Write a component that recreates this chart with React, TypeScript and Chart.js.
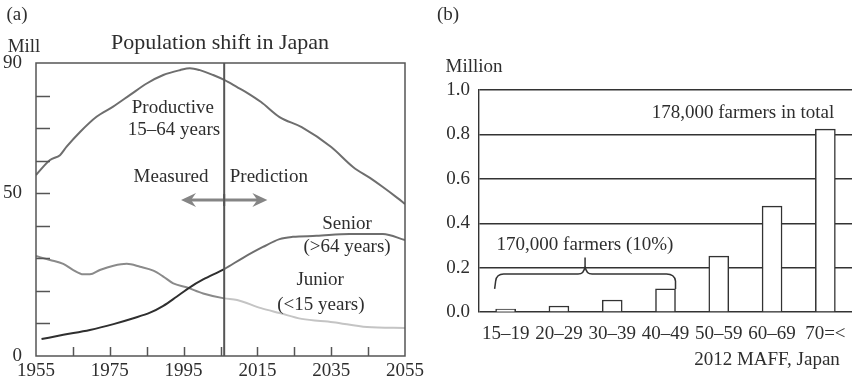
import React, { useEffect, useRef } from "react";
import { Chart, registerables } from "chart.js";
Chart.register(...registerables);

const FONT = "'Liberation Serif', 'Times New Roman', serif";
const TEXT = "#2e2e2e";
const FRAME = "#555555";
const FS = 19;

// ---------- Panel (a): Population shift in Japan (millions) ----------
const productiveYears = [1955, 1958.8, 1961.5, 1963.3, 1967, 1971.4, 1975.9, 1980.5, 1985, 1989.5, 1994, 1996.7, 1999.4, 2003, 2006, 2009.5, 2012, 2016, 2021, 2027, 2035, 2041, 2045.5, 2049, 2053, 2055];
const productiveValues = [55.6, 60.2, 61.7, 64.3, 68.9, 73.5, 76.6, 80.2, 83.7, 86.3, 87.8, 88.4, 87.8, 86.3, 84.8, 82.6, 81.0, 78.0, 73.4, 70.3, 64.2, 58.0, 54.7, 51.9, 48.5, 46.7];

const seniorYears = [1956.5, 1962.4, 1969.6, 1976, 1981.4, 1985.9, 1989.5, 1993.1, 1996.7, 2000.3, 2006, 2011, 2016.5, 2021, 2024.6, 2031, 2040, 2049, 2055];
const seniorValues = [5.2, 6.5, 8.0, 9.8, 11.6, 13.3, 15.4, 18.2, 21.1, 23.5, 26.7, 30.1, 33.5, 35.9, 36.6, 36.9, 37.5, 37.5, 35.6];

const juniorYears = [1955, 1958.8, 1962.4, 1965.1, 1967.8, 1969.6, 1972.3, 1976, 1979.6, 1983.2, 1986.8, 1989.5, 1992.2, 1995.8, 2000.3, 2006, 2009.5, 2016, 2021, 2027, 2035.5, 2044.7, 2055];
const juniorValues = [30.7, 29.5, 28.3, 26.4, 25.1, 25.1, 26.4, 27.7, 28.3, 27.4, 26.2, 24.4, 22.3, 21.1, 19.2, 17.7, 17.2, 14.7, 13.2, 11.4, 10.4, 8.9, 8.6];

const divideYear = 2006;
const yearLabels = [1955, 1975, 1995, 2015, 2035, 2055];
const popLabels = [0, 50, 90];

// ---------- Panel (b): farmers by age (millions) ----------
const ageGroups = ["15\u201319", "20\u201329", "30\u201339", "40\u201349", "50\u201359", "60\u201369", "70=<"];
const farmerValues = [0.0135, 0.027, 0.054, 0.104, 0.252, 0.477, 0.824];

const toPoints = (xs: number[], ys: number[]) => xs.map((x, i) => ({ x, y: ys[i] }));

function textAt(ctx: CanvasRenderingContext2D, s: string, x: number, y: number, size = FS, align: CanvasTextAlign = "center") {
  ctx.save();
  ctx.font = `${size}px ${FONT}`;
  ctx.fillStyle = TEXT;
  ctx.textAlign = align;
  ctx.textBaseline = "middle";
  ctx.fillText(s, x, y);
  ctx.restore();
}

const panelAPlugin = {
  id: "panelA",
  afterDatasetsDraw(chart: any) {
    const { ctx, chartArea, scales } = chart;
    const xs = scales.x, ys = scales.y;
    const { left, right, top, bottom } = chartArea;
    ctx.save();
    ctx.strokeStyle = FRAME;
    ctx.lineWidth = 1.5;
    ctx.strokeRect(left, top, right - left, bottom - top);
    ys.ticks.forEach((t: any) => {
      if (t.value <= 0 || t.value >= 90) return;
      const y = Math.round(ys.getPixelForValue(t.value)) + 0.5;
      ctx.beginPath(); ctx.moveTo(left, y); ctx.lineTo(left + 14, y); ctx.stroke();
    });
    xs.ticks.forEach((t: any) => {
      if (t.value <= 1955 || t.value >= 2055) return;
      const x = Math.round(xs.getPixelForValue(t.value)) + 0.5;
      ctx.beginPath(); ctx.moveTo(x, bottom); ctx.lineTo(x, bottom - 9); ctx.stroke();
    });
    const dx = xs.getPixelForValue(divideYear);
    ctx.lineWidth = 2;
    ctx.beginPath(); ctx.moveTo(dx, top); ctx.lineTo(dx, bottom); ctx.stroke();
    const ay = ys.getPixelForValue(47.9);
    const ax0 = xs.getPixelForValue(divideYear - 11.7);
    const ax1 = xs.getPixelForValue(divideYear + 11.7);
    ctx.fillStyle = "#858585";
    ctx.strokeStyle = "#858585";
    ctx.lineWidth = 3;
    ctx.beginPath(); ctx.moveTo(ax0 + 8, ay); ctx.lineTo(ax1 - 8, ay); ctx.stroke();
    ctx.beginPath();
    ctx.moveTo(ax0, ay); ctx.lineTo(ax0 + 15, ay - 7); ctx.lineTo(ax0 + 10, ay); ctx.lineTo(ax0 + 15, ay + 7); ctx.closePath(); ctx.fill();
    ctx.beginPath();
    ctx.moveTo(ax1, ay); ctx.lineTo(ax1 - 15, ay - 7); ctx.lineTo(ax1 - 10, ay); ctx.lineTo(ax1 - 15, ay + 7); ctx.closePath(); ctx.fill();
    ctx.strokeStyle = FRAME; ctx.lineWidth = 2;
    ctx.beginPath(); ctx.moveTo(dx, ay - 6); ctx.lineTo(dx, ay + 6); ctx.stroke();
    ctx.restore();

    const P = (yr: number, v: number): [number, number] => [xs.getPixelForValue(yr), ys.getPixelForValue(v)];
    textAt(ctx, "Productive", ...P(1992.1, 76.2));
    textAt(ctx, "15\u201364 years", ...P(1992.4, 69.4));
    textAt(ctx, "Measured", ...P(1991.6, 55.0));
    textAt(ctx, "Prediction", ...P(2018.1, 55.0));
    textAt(ctx, "Senior", ...P(2039.3, 40.5));
    textAt(ctx, "(>64 years)", ...P(2039.3, 33.5));
    textAt(ctx, "Junior", ...P(2032, 23.3));
    textAt(ctx, "(<15 years)", ...P(2032.2, 15.7));
    textAt(ctx, "Population shift in Japan", 220, 43, 22);
    textAt(ctx, "(a)", 17, 15);
    textAt(ctx, "Mill", 24, 47);
  },
};

const panelBPlugin = {
  id: "panelB",
  afterDatasetsDraw(chart: any) {
    const { ctx, scales } = chart;
    const xs = scales.x, ys = scales.y;
    const L = xs.getPixelForValue(0) - 11;
    const R = xs.getPixelForValue(3) + 10;
    const C = (L + R) / 2;
    const yEnd = ys.getPixelForValue(0.104);
    const yMid = ys.getPixelForValue(0.171);
    const yTip = ys.getPixelForValue(0.245);
    ctx.save();
    ctx.strokeStyle = "#333";
    ctx.lineWidth = 1.5;
    ctx.beginPath();
    ctx.moveTo(L, yEnd);
    ctx.lineTo(L + 1, yMid + 7);
    ctx.quadraticCurveTo(L + 2, yMid, L + 9, yMid);
    ctx.lineTo(C - 7, yMid);
    ctx.quadraticCurveTo(C - 1, yMid, C, yMid - 8);
    ctx.lineTo(C, yTip);
    ctx.moveTo(C, yMid - 8);
    ctx.quadraticCurveTo(C + 1, yMid, C + 7, yMid);
    ctx.lineTo(R - 9, yMid);
    ctx.quadraticCurveTo(R - 1, yMid, R, yMid + 7);
    ctx.lineTo(R, yEnd);
    ctx.stroke();
    ctx.restore();

    textAt(ctx, "170,000 farmers (10%)", 165, 245);
    textAt(ctx, "178,000 farmers in total", 323, 113);
    textAt(ctx, "Million", 54, 67);
    textAt(ctx, "(b)", 28, 15);
    textAt(ctx, "2012 MAFF, Japan", 347, 360);
  },
};

export default function App() {
  const refA = useRef<HTMLCanvasElement>(null);
  const refB = useRef<HTMLCanvasElement>(null);

  useEffect(() => {
    document.body.style.margin = "0";
    const seg = (before: string, after: string) => ({
      borderColor: (c: any) => (c.p0.parsed.x >= divideYear ? after : before),
    });
    const lineBase = { pointRadius: 0, borderWidth: 2, cubicInterpolationMode: "monotone" as const, fill: false };

    const chartA = new Chart(refA.current!, {
      type: "line",
      data: {
        datasets: [
          { ...lineBase, label: "Productive 15–64 years", data: toPoints(productiveYears, productiveValues), borderColor: "#6e6e6e", segment: seg("#6e6e6e", "#6e6e6e") },
          { ...lineBase, label: "Senior (>64 years)", data: toPoints(seniorYears, seniorValues), borderColor: "#333333", segment: seg("#2f2f2f", "#6e6e6e") },
          { ...lineBase, label: "Junior (<15 years)", data: toPoints(juniorYears, juniorValues), borderColor: "#8a8a8a", segment: seg("#8a8a8a", "#c4c4c4") },
        ],
      },
      options: {
        responsive: false,
        animation: false,
        layout: { padding: { top: 63, right: 35, left: 0, bottom: 0 } },
        plugins: { legend: { display: false }, tooltip: { enabled: false }, title: { display: false } },
        scales: {
          x: {
            type: "linear", min: 1955, max: 2055,
            grid: { display: false },
            border: { display: false },
            ticks: {
              stepSize: 10, autoSkip: false, maxRotation: 0, padding: -4,
              color: TEXT, font: { family: FONT, size: FS },
              callback: (v: any) => (yearLabels.includes(Number(v)) ? String(v) : ""),
            },
            afterFit: (s: any) => { s.height = 23; s.paddingLeft = 0; s.paddingRight = 0; },
          },
          y: {
            min: 0, max: 90,
            grid: { display: false },
            border: { display: false },
            ticks: {
              stepSize: 10, autoSkip: false, padding: 6,
              color: TEXT, font: { family: FONT, size: FS },
              callback: (v: any) => (popLabels.includes(Number(v)) ? String(v) : ""),
            },
            afterFit: (s: any) => { s.width = 36; s.paddingTop = 0; s.paddingBottom = 0; },
          },
        },
      },
      plugins: [panelAPlugin],
    } as any);

    const chartB = new Chart(refB.current!, {
      type: "bar",
      data: {
        labels: ageGroups,
        datasets: [
          { label: "Farmers (million)", data: farmerValues, backgroundColor: "#ffffff", borderColor: "#333333", borderWidth: 1.5, barThickness: 20 },
        ],
      },
      options: {
        responsive: false,
        animation: false,
        layout: { padding: { top: 90, right: 0, left: 0, bottom: 0 } },
        plugins: { legend: { display: false }, tooltip: { enabled: false } },
        scales: {
          x: {
            grid: { display: false },
            border: { display: false },
            ticks: { color: TEXT, font: { family: FONT, size: FS }, padding: 3, maxRotation: 0, autoSkip: false },
            afterFit: (s: any) => { s.height = 67; s.paddingLeft = 0; s.paddingRight = 0; },
          },
          y: {
            min: 0, max: 1,
            grid: { color: "#333333", lineWidth: 1.4, drawTicks: false },
            border: { display: true, color: "#333333", width: 1.4 },
            ticks: {
              stepSize: 0.2, padding: 9, color: TEXT, font: { family: FONT, size: FS },
              callback: (v: any) => Number(v).toFixed(1),
            },
            afterFit: (s: any) => { s.width = 59; s.paddingTop = 0; s.paddingBottom = 0; },
          },
        },
      },
      plugins: [panelBPlugin],
    } as any);

    return () => { chartA.destroy(); chartB.destroy(); };
  }, []);

  return (
    <div style={{ position: "relative", width: 852, height: 379, background: "#ffffff", overflow: "hidden" }}>
      <canvas ref={refA} width={440} height={379} style={{ position: "absolute", left: 0, top: 0 }} />
      <canvas ref={refB} width={432} height={379} style={{ position: "absolute", left: 420, top: 0 }} />
    </div>
  );
}
